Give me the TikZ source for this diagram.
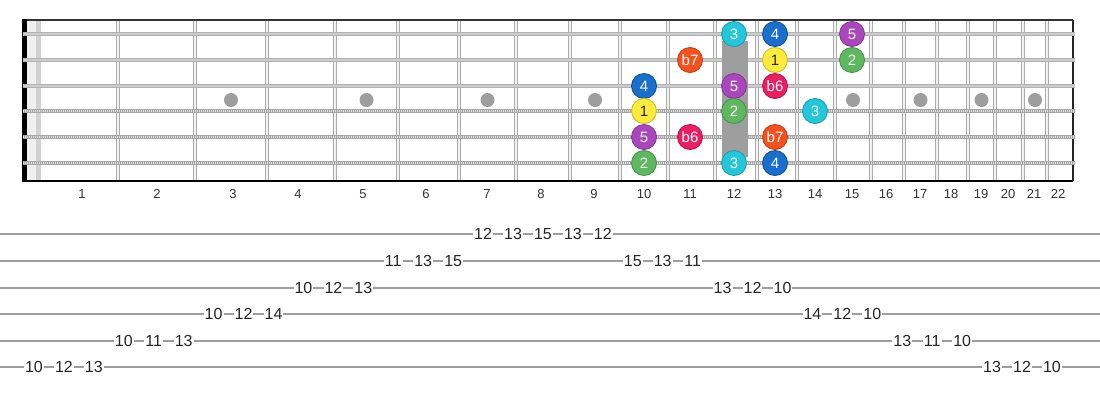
\documentclass[tikz,border=0pt]{standalone}
\usepackage{fontspec}
\setmainfont{Liberation Sans}
\usepackage{tikz}
\usetikzlibrary{shapes,arrows}
\definecolor{cyel}{HTML}{FFEB3B}
\definecolor{cgrn}{HTML}{5DB85F}
\definecolor{ccya}{HTML}{26C6DA}
\definecolor{cblu}{HTML}{1A6FCC}
\definecolor{cpur}{HTML}{AB47BC}
\definecolor{cpnk}{HTML}{E91E63}
\definecolor{corg}{HTML}{F4511E}
\definecolor{cdot}{HTML}{9E9E9E}
\tikzstyle{note}=[circle,inner sep=0pt,minimum size=25pt,line width=0.9pt,text=white,font=\fontsize{15}{15}\selectfont]
\tikzstyle{ton1}=[note,fill=cyel,draw=cyel!80!black,text=black!85]
\tikzstyle{ton2}=[note,fill=cgrn,draw=cgrn!80!black]
\tikzstyle{ton3}=[note,fill=ccya,draw=ccya!80!black]
\tikzstyle{ton4}=[note,fill=cblu,draw=cblu!75!black]
\tikzstyle{ton5}=[note,fill=cpur,draw=cpur!80!black]
\tikzstyle{tonb6}=[note,fill=cpnk,draw=cpnk!80!black]
\tikzstyle{tonb7}=[note,fill=corg,draw=corg!80!black]
\tikzstyle{fretnum}=[text=black!80,font=\fontsize{13}{13}\selectfont]
\tikzstyle{tabnum}=[fill=white,inner xsep=1pt,inner ysep=0pt,text=black!85,font=\fontsize{16}{16}\selectfont]
\tikzstyle{plain}=[gray!60,line width=3.2pt]
\tikzstyle{wound}=[gray!70,line width=4pt]

\begin{document}
\begin{tikzpicture}[x=1pt,y=-1pt]
\useasboundingbox (0,0) rectangle (1100,400);
% board
\fill[gray!12] (27,20) rectangle (36,181);
\fill[gray!35] (36,20) rectangle (41,181);
\foreach \x in {118,195,267,335,398,459,516,570,620,668,715,757,797,835,871,904,937,968,995,1023,1047}
  \draw[gray!65,double=gray!10,double distance=2pt,line width=1pt] (\x,20) -- (\x,181);
\draw[black!80,line width=1.5pt] (22,20) -- (1073,20);
\draw[black,line width=2pt] (22,181) -- (1073,181);
\draw[black!85,line width=2pt] (1073,20) -- (1073,181);
\fill[black] (22,19) rectangle (26.5,182);
% inlays
\foreach \x in {231,366.5,487.5,595,853,920.5,981.5,1035}
  \fill[cdot] (\x,100) circle (7pt);
% strings
\foreach \y in {34,60,86} {
  \draw[plain] (23,\y) -- (1075,\y);
  \draw[gray!40,line width=1.2pt] (23,\y) -- (1075,\y);
}
\foreach \y in {111,137,163} {
  \draw[wound] (23,\y) -- (1075,\y);
  \draw[gray!25,line width=2.6pt,dash pattern=on 0.9pt off 1.1pt] (23,\y) -- (1075,\y);
}
\fill[cdot] (722,41) rectangle (748,157);
% fret numbers
\foreach \n/\x in {1/82,2/157,3/233,4/298,5/363,6/426,7/487,8/541,9/594,10/644,11/690,
  12/734,13/775,14/815,15/852,16/886,17/920,18/951,19/981,20/1008,21/1034,22/1058}
  \node[fretnum] (f\n) at (\x,194) {\n};
% scale notes
\node[ton3] (e12) at (734,34) {3};
\node[ton4] (e13) at (775,34) {4};
\node[ton5] (e15) at (852,34) {5};
\node[tonb7] (b11) at (690,60) {b7};
\node[ton1] (b13) at (775,60) {1};
\node[ton2] (b15) at (852,60) {2};
\node[ton4] (g10) at (644,86) {4};
\node[ton5] (g12) at (734,86) {5};
\node[tonb6] (g13) at (775,86) {b6};
\node[ton1] (d10) at (644,111) {1};
\node[ton2] (d12) at (734,111) {2};
\node[ton3] (d14) at (815,111) {3};
\node[ton5] (a10) at (644,137) {5};
\node[tonb6] (a11) at (690,137) {b6};
\node[tonb7] (a13) at (775,137) {b7};
\node[ton2] (lowe10) at (644,163) {2};
\node[ton3] (lowe12) at (734,163) {3};
\node[ton4] (lowe13) at (775,163) {4};
% tab
\foreach \y in {234,261,288,314,341,367}
  \draw[cdot,line width=1.5pt] (0,\y) -- (1100,\y);
\foreach \k/\y/\f in {0/367/10,1/367/12,2/367/13,3/341/10,4/341/11,5/341/13,
  6/314/10,7/314/12,8/314/14,9/288/10,10/288/12,11/288/13,12/261/11,13/261/13,14/261/15,
  15/234/12,16/234/13,17/234/15,18/234/13,19/234/12,20/261/15,21/261/13,22/261/11,
  23/288/13,24/288/12,25/288/10,26/314/14,27/314/12,28/314/10,29/341/13,30/341/11,
  31/341/10,32/367/13,33/367/12,34/367/10}
  \node[tabnum] (t\k) at ({34+29.94*\k},\y) {\f};
\end{tikzpicture}
\end{document}
